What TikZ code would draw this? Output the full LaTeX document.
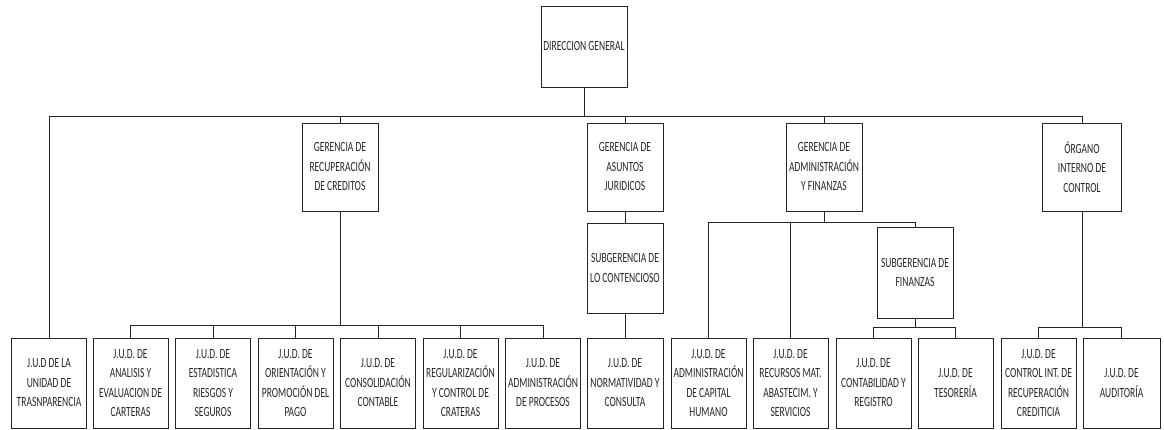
\documentclass[tikz,border=0pt]{standalone}
\usepackage{fontspec}
\setmainfont[FakeStretch=0.68]{Carlito}

\begin{document}
\begin{tikzpicture}[x=1pt,y=-1pt,
	font=\fontsize{14}{19.5}\selectfont,
	every node/.style={draw=black!85,line width=0.9pt,align=center,inner sep=1pt,text=black!85},
	box/.style={minimum width=76pt,minimum height=88pt},
	jud/.style={minimum width=75pt,minimum height=90pt},
	ln/.style={draw=black!85,line width=0.9pt}]
	\useasboundingbox (0,0) rectangle (1164,430);
	\node [minimum width=86pt,minimum height=81pt] (dg) at (584,46.5) {DIRECCION GENERAL};
	\node [box] (recup) at (340,167) {GERENCIA DE\\RECUPERACIÓN\\DE CREDITOS};
	\node [box] (asun) at (625,167) {GERENCIA DE\\ASUNTOS\\JURIDICOS};
	\node [box] (admin) at (824,167) {GERENCIA DE\\ADMINISTRACIÓN\\Y FINANZAS};
	\node [box,minimum width=79pt] (oic) at (1082,167) {ÓRGANO\\INTERNO DE\\CONTROL};
	\node [box,minimum height=90pt] (scont) at (625,268) {SUBGERENCIA DE\\LO CONTENCIOSO};
	\node [box,minimum height=91pt] (sfin) at (915,272.5) {SUBGERENCIA DE\\FINANZAS};
	\node [jud] (j1) at (49,383) {J.U.D DE LA\\UNIDAD DE\\TRASNPARENCIA};
	\node [jud] (j2) at (130.5,383) {J.U.D. DE\\ANALISIS Y\\EVALUACION DE\\CARTERAS};
	\node [jud] (j3) at (213,383) {J.U.D. DE\\ESTADISTICA\\RIESGOS Y\\SEGUROS};
	\node [jud] (j4) at (295.5,383) {J.U.D. DE\\ORIENTACIÓN Y\\PROMOCIÓN DEL\\PAGO};
	\node [jud] (j5) at (378,383) {J.U.D. DE\\CONSOLIDACIÓN\\CONTABLE};
	\node [jud] (j6) at (460.5,383) {J.U.D. DE\\REGULARIZACIÓN\\Y CONTROL DE\\CRATERAS};
	\node [jud] (j7) at (543,383) {J.U.D. DE\\ADMINISTRACIÓN\\DE PROCESOS};
	\node [jud,minimum width=76pt] (j8) at (625,383) {J.U.D. DE\\NORMATIVIDAD Y\\CONSULTA};
	\node [jud] (j9) at (708.5,383) {J.U.D. DE\\ADMINISTRACIÓN\\DE CAPITAL\\HUMANO};
	\node [jud] (j10) at (790.5,383) {J.U.D. DE\\RECURSOS MAT.\\ABASTECIM. Y\\SERVICIOS};
	\node [jud] (j11) at (873.5,383) {J.U.D. DE\\CONTABILIDAD Y\\REGISTRO};
	\node [jud] (j12) at (955.5,383) {J.U.D. DE\\TESORERÍA};
	\node [jud] (j13) at (1038.5,383) {J.U.D. DE\\CONTROL INT. DE\\RECUPERACIÓN\\CREDITICIA};
	\node [jud,minimum width=77pt] (j14) at (1121.5,383) {J.U.D. DE\\AUDITORÍA};
	\coordinate (bus) at (0,116);
	\coordinate (busrc) at (0,325);
	\coordinate (busaf) at (0,222);
	\coordinate (busfi) at (0,327);
	\draw [ln] (dg.south) -- (dg.south |- bus);
	\draw [ln] (j1.north) -- (j1.north |- bus) -- (oic.north |- bus) -- (oic.north);
	\draw [ln] (recup.north) -- (recup.north |- bus);
	\draw [ln] (asun.north) -- (asun.north |- bus);
	\draw [ln] (admin.north) -- (admin.north |- bus);
	\draw [ln] (recup.south) -- (recup.south |- busrc);
	\draw [ln] (j2.north) -- (j2.north |- busrc) -- (j7.north |- busrc) -- (j7.north);
	\draw [ln] (j3.north) -- (j3.north |- busrc);
	\draw [ln] (j4.north) -- (j4.north |- busrc);
	\draw [ln] (j5.north) -- (j5.north |- busrc);
	\draw [ln] (j6.north) -- (j6.north |- busrc);
	\draw [ln] (asun.south) -- (scont.north);
	\draw [ln] (scont.south) -- (j8.north);
	\draw [ln] (admin.south) -- (admin.south |- busaf);
	\draw [ln] (j9.north) -- (j9.north |- busaf) -- (sfin.north |- busaf) -- (sfin.north);
	\draw [ln] (j10.north) -- (j10.north |- busaf);
	\draw [ln] (sfin.south) -- (sfin.south |- busfi);
	\draw [ln] (j11.north) -- (j11.north |- busfi) -- (j12.north |- busfi) -- (j12.north);
	\draw [ln] (oic.south) -- (oic.south |- busfi);
	\draw [ln] (j13.north) -- (j13.north |- busfi) -- (j14.north |- busfi) -- (j14.north);
\end{tikzpicture}
\end{document}
